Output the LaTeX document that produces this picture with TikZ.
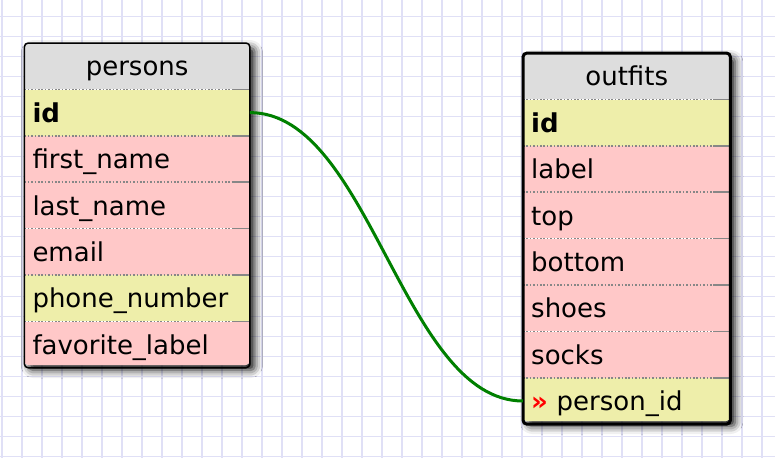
\documentclass[tikz,border=0pt]{standalone}
\usepackage{fontspec}
\setmainfont{DejaVu Sans}
\usetikzlibrary{positioning,shadows.blur}

\definecolor{gridblue}{RGB}{224,224,246}
\definecolor{headgray}{RGB}{221,221,221}
\definecolor{keyyellow}{RGB}{238,238,170}
\definecolor{fieldpink}{RGB}{255,200,200}
\definecolor{sepgray}{RGB}{135,135,135}
\definecolor{linkgreen}{RGB}{0,128,0}

\tikzset{
  cell/.style={rectangle, inner xsep=8pt, inner ysep=0pt, minimum height=46pt,
    text height=23pt, text depth=3.6pt, align=left,
    font=\fontsize{26}{30}\selectfont},
  head/.style={cell, fill=headgray, align=center},
  key/.style={cell, fill=keyyellow},
  attr/.style={cell, fill=fieldpink},
  sepdot/.style={sepgray, line width=1.6pt, dash pattern=on 1.6pt off 1.8pt},
  sepsolid/.style={sepgray, line width=1.6pt},
  tablebg/.style={fill=white, rounded corners=4pt,
    blur shadow={shadow xshift=5pt, shadow yshift=-5pt, shadow blur radius=8pt, shadow opacity=95}},
  gridline/.style={gridblue, line width=1.6pt},
  link/.style={linkgreen, line width=3pt}
}

\begin{document}
\begin{tikzpicture}[x=1pt, y=-1pt]
\useasboundingbox (0,0) rectangle (775,458);

% grid paper
\foreach \gx in {2,22,...,762} \draw[gridline] (\gx,0) -- (\gx,458);
\foreach \gy in {16.5,36.5,...,456.5} \draw[gridline] (0,\gy) -- (775,\gy);

% persons
\def\pxl{24.3}
\def\pxr{249.5}
\def\pyt{43}
\def\pyb{365}

\fill[tablebg] (\pxl,\pyt) rectangle (\pxr,\pyb);
\begin{scope}[every node/.append style={text width=209.2pt}]
\clip[rounded corners=4pt] (\pxl,\pyt) rectangle (\pxr,\pyb);
\node[head, anchor=north west] (phead) at (\pxl,\pyt) {persons};
\node[key, below=0pt of phead] (pid) {\textbf{id}};
\node[attr, below=0pt of pid] (pfirst) {first\_name};
\node[attr, below=0pt of pfirst] (plast) {last\_name};
\node[attr, below=0pt of plast] (pemail) {email};
\node[key, below=0pt of pemail] (pphone) {phone\_number};
\node[attr, below=0pt of pphone] (pfav) {favorite\_label};
\end{scope}
\foreach \r in {pid,pfirst,plast,pemail,pphone,pfav} {
  \draw[sepdot] (\r.north west) -- ([xshift=-17pt]\r.north east);
  \draw[sepsolid] ([xshift=-17pt]\r.north east) -- (\r.north east);
}
\draw[line width=1.5pt, rounded corners=4pt] (phead.north west) rectangle (pfav.south east);

% outfits
\def\oxl{523}
\def\oxr{730}
\def\oyt{53}
\def\oyb{421}

\fill[tablebg] (\oxl,\oyt) rectangle (\oxr,\oyb);
\begin{scope}[every node/.append style={text width=191pt}]
\clip[rounded corners=4pt] (\oxl,\oyt) rectangle (\oxr,\oyb);
\node[head, anchor=north west] (ohead) at (\oxl,\oyt) {outfits};
\node[key, below=0pt of ohead] (oid) {\textbf{id}};
\node[attr, below=0pt of oid] (olabel) {label};
\node[attr, below=0pt of olabel] (otop) {top};
\node[attr, below=0pt of otop] (obottom) {bottom};
\node[attr, below=0pt of obottom] (oshoes) {shoes};
\node[attr, below=0pt of oshoes] (osocks) {socks};
\node[key, below=0pt of osocks] (opid) {{\bfseries\color{red}»}\ person\_id};
\end{scope}
\foreach \r in {oid,olabel,otop,obottom,oshoes,osocks,opid} {
  \draw[sepdot] (\r.north west) -- ([xshift=-17pt]\r.north east);
  \draw[sepsolid] ([xshift=-17pt]\r.north east) -- (\r.north east);
}
\draw[line width=3pt, rounded corners=4pt] (ohead.north west) rectangle (opid.south east);

% relation
\draw[link] (pid.east) .. controls +(120,0) and +(-120,0) .. (opid.west);

\end{tikzpicture}
\end{document}
